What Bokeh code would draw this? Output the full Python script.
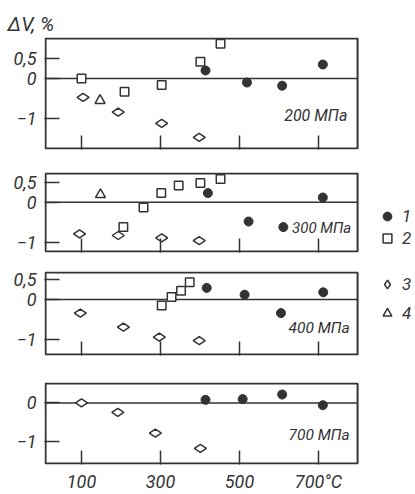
import math
from bokeh.plotting import figure
from bokeh.layouts import column
from bokeh.models import Range1d, FixedTicker, Label, Legend, LegendItem
from bokeh.embed import file_html
from bokeh.resources import INLINE

FONT = "Roboto"
INK = "#333333"

# ---- data (temperature in deg C, volume change dV in %) ----
pressures = ["200 МПа", "300 МПа", "400 МПа", "700 МПа"]
series_labels = ["1", "2", "3", "4"]

# 200 MPa
p200_s1_x = [414, 519, 608, 711]
p200_s1_y = [0.2, -0.1, -0.18, 0.35]
p200_s2_x = [100, 209, 303, 401, 452]
p200_s2_y = [0.0, -0.33, -0.16, 0.42, 0.87]
p200_s3_x = [104, 193, 303, 398]
p200_s3_y = [-0.47, -0.84, -1.12, -1.47]
p200_s4_x = [147]
p200_s4_y = [-0.55]

# 300 MPa
p300_s1_x = [420, 523, 611, 711]
p300_s1_y = [0.23, -0.48, -0.62, 0.12]
p300_s2_x = [206, 257, 302, 346, 401, 452]
p300_s2_y = [-0.62, -0.13, 0.23, 0.42, 0.48, 0.58]
p300_s3_x = [95, 193, 303, 398]
p300_s3_y = [-0.79, -0.83, -0.89, -0.96]
p300_s4_x = [148]
p300_s4_y = [0.19]

# 400 MPa
p400_s1_x = [417, 513, 605, 712]
p400_s1_y = [0.29, 0.12, -0.34, 0.18]
p400_s2_x = [303, 328, 352, 374]
p400_s2_y = [-0.15, 0.06, 0.22, 0.43]
p400_s3_x = [97, 206, 297, 398]
p400_s3_y = [-0.34, -0.69, -0.94, -1.03]
p400_s4_x = []
p400_s4_y = []

# 700 MPa
p700_s1_x = [414, 508, 608, 711]
p700_s1_y = [0.08, 0.1, 0.22, -0.06]
p700_s2_x = []
p700_s2_y = []
p700_s3_x = [100, 192, 287, 401]
p700_s3_y = [0.0, -0.25, -0.79, -1.19]
p700_s4_x = []
p700_s4_y = []

x_ticks = [100, 300, 500, 700]
x_tick_labels = {100: "100", 300: "300", 500: "500", 700: "700°C"}
y_tick_labels = {0.5: "0,5", 0: "0", -1: "\u22121"}

panels = [
    [(p200_s1_x, p200_s1_y), (p200_s2_x, p200_s2_y), (p200_s3_x, p200_s3_y), (p200_s4_x, p200_s4_y)],
    [(p300_s1_x, p300_s1_y), (p300_s2_x, p300_s2_y), (p300_s3_x, p300_s3_y), (p300_s4_x, p300_s4_y)],
    [(p400_s1_x, p400_s1_y), (p400_s2_x, p400_s2_y), (p400_s3_x, p400_s3_y), (p400_s4_x, p400_s4_y)],
    [(p700_s1_x, p700_s1_y), (p700_s2_x, p700_s2_y), (p700_s3_x, p700_s3_y), (p700_s4_x, p700_s4_y)],
]

# ---- layout / style ----
heights = [160, 101, 105, 128]
b_top = [37, 12, 10, 16]
b_bot = [11, 9, 11, 26]
box_x = (9, 799)                       # panel box extent in deg C
box_y = [(-1.75, 1.0), (-1.23, 0.72), (-1.375, 0.675), (-1.59, 0.51)]
pad_y = 1 / 40.0                       # 1 px at 40 px per percent
x_view = (6.33, 945.6)                 # frame also holds the legend column
y_ticks = [[-1, 0, 0.5], [-1, 0, 0.5], [-1, 0, 0.5], [-1, 0]]
label_pos = [(773, -0.93), (783, -0.63), (779, -0.70), (779, -0.83)]
label_size = ["16px", "15px", "15.5px", "15.5px"]

styles = [
    dict(marker="circle", size=9, fill_color=INK, line_color=INK, line_width=1),
    dict(marker="square", size=8.5, fill_color="white", line_color=INK, line_width=1.5),
    dict(marker="diamond", size=12, angle=math.pi / 2, fill_color="white", line_color=INK, line_width=1.5),
    dict(marker="triangle", size=10, fill_color="white", line_color=INK, line_width=1.5),
]

NAN = float("nan")

figs = []
for i, data in enumerate(panels):
    last = i == len(panels) - 1
    y0, y1 = box_y[i]
    p = figure(width=415, height=heights[i], x_range=Range1d(*x_view),
               y_range=Range1d(y0 - pad_y, y1 + pad_y), output_backend="svg",
               toolbar_location=None, min_border_left=44, min_border_right=0,
               min_border_top=b_top[i], min_border_bottom=b_bot[i])
    p.grid.visible = False
    p.outline_line_color = None
    p.border_fill_color = "white"
    p.background_fill_color = "white"

    xa = p.xaxis[0]
    xa.ticker = FixedTicker(ticks=x_ticks)
    xa.major_tick_in = 14
    xa.major_tick_out = 0
    xa.minor_tick_line_color = None
    xa.axis_line_color = None
    xa.major_tick_line_color = INK
    xa.major_tick_line_width = 1.5
    if last:
        xa.major_label_overrides = x_tick_labels
        xa.major_label_text_font = FONT
        xa.major_label_text_font_style = "italic"
        xa.major_label_text_font_size = "18px"
        xa.major_label_text_color = INK
        xa.major_label_standoff = 6
    else:
        xa.major_label_overrides = {t: " " for t in x_ticks}
        xa.major_label_text_font_size = "6px"
        xa.major_label_standoff = 0

    ya = p.yaxis[0]
    ya.ticker = FixedTicker(ticks=y_ticks[i])
    ya.major_label_overrides = y_tick_labels
    ya.major_tick_in = 15
    ya.major_tick_out = 0
    ya.minor_tick_line_color = None
    ya.axis_line_color = None
    ya.major_tick_line_color = INK
    ya.major_tick_line_width = 1.5
    ya.major_label_text_font = FONT
    ya.major_label_text_font_style = "italic"
    ya.major_label_text_font_size = "18px"
    ya.major_label_text_color = INK
    ya.major_label_standoff = 8

    # panel box and zero line
    p.quad(left=[box_x[0]], right=[box_x[1]], bottom=[y0], top=[y1],
           fill_color=None, line_color=INK, line_width=2)
    p.segment(x0=[box_x[0]], x1=[box_x[1]], y0=[0], y1=[0], line_color=INK, line_width=1.5)

    rends = []
    for (xs, ys), st in zip(data, styles):
        # a series without measurements at this pressure: no visible point
        xs_ = list(xs) if xs else [NAN]
        ys_ = list(ys) if ys else [NAN]
        rends.append(p.scatter(xs_, ys_, **st))

    lx, ly = label_pos[i]
    p.add_layout(Label(x=lx, y=ly, text=pressures[i], text_align="right",
                       text_baseline="middle", text_font=FONT,
                       text_font_style="italic", text_font_size=label_size[i],
                       text_color=INK))

    if i == 0:
        p.title.text = "\u0394V, %"
        p.title.align = "left"
        p.title.offset = -37
        p.title.standoff = 4
        p.title.text_font = FONT
        p.title.text_font_style = "italic"
        p.title.text_font_size = "20px"
        p.title.text_color = INK
    if i in (1, 2):
        idx = [0, 1] if i == 1 else [2, 3]
        leg = Legend(items=[LegendItem(label=series_labels[k], renderers=[rends[k]]) for k in idx],
                     location=(332, 3 if i == 1 else 31),
                     glyph_width=22, glyph_height=22, label_height=22,
                     spacing=0 if i == 1 else 7, padding=0, margin=0,
                     label_standoff=4, border_line_color=None,
                     background_fill_alpha=0, label_text_font=FONT,
                     label_text_font_style="italic", label_text_font_size="17px",
                     label_text_color=INK)
        p.add_layout(leg)
    figs.append(p)

layout = column(*figs, spacing=0)
open("out.html", "w").write(file_html(layout, INLINE))
